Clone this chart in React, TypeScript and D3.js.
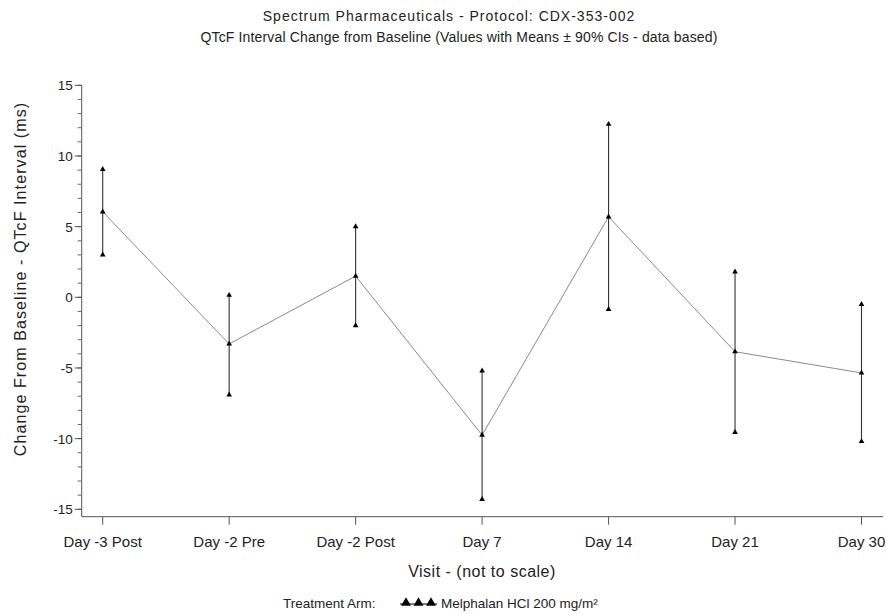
import React from 'react';
import * as d3 from 'd3';

const visits = ['Day -3 Post', 'Day -2 Pre', 'Day -2 Post', 'Day 7', 'Day 14', 'Day 21', 'Day 30'];
const means = [6.05, -3.3, 1.5, -9.75, 5.7, -3.85, -5.35];
const upper = [9.05, 0.15, 5.0, -5.2, 12.25, 1.8, -0.5];
const lower = [3.0, -6.9, -2.0, -14.3, -0.85, -9.55, -10.2];
const yTicks = [-15, -10, -5, 0, 5, 10, 15];
const yMinor = d3.range(-15, 16, 1);
const titleLines = [
  'Spectrum Pharmaceuticals - Protocol: CDX-353-002',
  'QTcF Interval Change from Baseline (Values with Means ± 90% CIs - data based)',
];
const yLabel = 'Change From Baseline - QTcF Interval (ms)';
const xLabel = 'Visit - (not to scale)';
const legendTitle = 'Treatment Arm:';
const legendItem = 'Melphalan HCl 200 mg/m²';

const W = 886;
const H = 614;
const FONT = '"Liberation Sans", Arial, sans-serif';

export default function App() {
  const x = d3.scalePoint<string>().domain(visits).range([102.7, 861.5]);
  const y = d3.scaleLinear().domain([-15, 15]).range([509.3, 85.3]);
  const axisLeft = 81.7;
  const axisBottom = 516.7;
  const axisRight = 883;

  const line = d3
    .line<number>()
    .x((_, i) => x(visits[i]) as number)
    .y((d) => y(d));

  const triPath = d3.symbol().type(d3.symbolTriangle).size(14)() as string;
  const legTri = d3.symbol().type(d3.symbolTriangle).size(42)() as string;

  return (
    <svg
      width={W}
      height={H}
      style={{ position: 'absolute', left: 0, top: 0, background: '#fff' }}
      fontFamily={FONT}
    >
      <rect x={0} y={0} width={W} height={H} fill="#fff" />
      <text x={449} y={21} textAnchor="middle" fontSize={14} fill="#222" letterSpacing={1.0}>
        {titleLines[0]}
      </text>
      <text x={459} y={42} textAnchor="middle" fontSize={14} fill="#222" letterSpacing={0.15}>
        {titleLines[1]}
      </text>

      {/* Y axis */}
      <line x1={axisLeft} x2={axisLeft} y1={y(15)} y2={axisBottom} stroke="#555" strokeWidth={1} />
      {yMinor.map((v) => (
        <line key={'m' + v} x1={axisLeft - 4} x2={axisLeft} y1={y(v)} y2={y(v)} stroke="#666" strokeWidth={1} />
      ))}
      {yTicks.map((v) => (
        <g key={'t' + v}>
          <line x1={axisLeft - 7} x2={axisLeft} y1={y(v)} y2={y(v)} stroke="#555" strokeWidth={1} />
          <text x={axisLeft - 9} y={y(v) + 5} textAnchor="end" fontSize={13.5} fill="#222">
            {v}
          </text>
        </g>
      ))}
      <text
        transform={`translate(26,279) rotate(-90)`}
        textAnchor="middle"
        fontSize={16}
        fill="#222"
        letterSpacing={1.1}
      >
        {yLabel}
      </text>

      {/* X axis */}
      <line x1={axisLeft} x2={axisRight} y1={axisBottom} y2={axisBottom} stroke="#555" strokeWidth={1} />
      {visits.map((v) => (
        <g key={v}>
          <line x1={x(v)} x2={x(v)} y1={axisBottom} y2={axisBottom + 8} stroke="#555" strokeWidth={1} />
          <text x={x(v)} y={axisBottom + 30} textAnchor="middle" fontSize={15} fill="#222">
            {v}
          </text>
        </g>
      ))}
      <text x={482} y={577} textAnchor="middle" fontSize={16} fill="#222" letterSpacing={0.5}>
        {xLabel}
      </text>

      {/* mean line */}
      <path d={line(means) as string} fill="none" stroke="#8a8a8a" strokeWidth={1} />

      {/* error bars */}
      {visits.map((v, i) => (
        <g key={'e' + v}>
          <line x1={x(v)} x2={x(v)} y1={y(upper[i])} y2={y(lower[i])} stroke="#333" strokeWidth={1.1} />
          <path d={triPath} transform={`translate(${x(v)},${y(upper[i])})`} fill="#000" />
          <path d={triPath} transform={`translate(${x(v)},${y(lower[i])})`} fill="#000" />
          <path d={triPath} transform={`translate(${x(v)},${y(means[i])})`} fill="#000" />
        </g>
      ))}

      {/* legend */}
      <text x={283} y={608} fontSize={13.5} fill="#222">
        {legendTitle}
      </text>
      <line x1={400} x2={437} y1={604} y2={604} stroke="#000" strokeWidth={1} />
      {[0, 1, 2].map((k) => (
        <path key={k} d={legTri} transform={`translate(${406 + k * 12.5},${603})`} fill="#000" />
      ))}
      <text x={441} y={608} fontSize={13.5} fill="#222">
        {legendItem}
      </text>
    </svg>
  );
}
